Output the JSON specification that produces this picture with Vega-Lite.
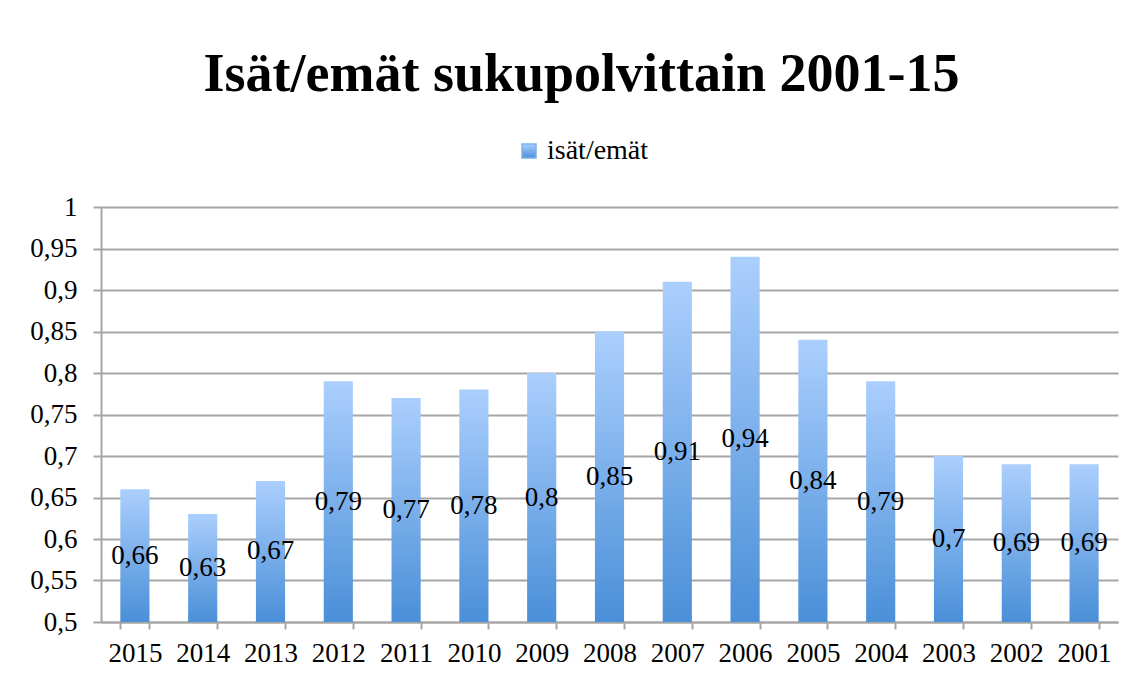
{
  "$schema": "https://vega.github.io/schema/vega-lite/v6.json",
  "width": 1017,
  "height": 415,
  "autosize": "none",
  "padding": {"left": 101, "top": 207, "right": 25, "bottom": 60},
  "background": "white",
  "config": {
    "locale": {"number": {"decimal": ",", "thousands": " ", "grouping": [3], "currency": ["", " €"]}},
    "font": "Liberation Serif",
    "view": {"stroke": null},
    "axis": {
      "labelFont": "Liberation Serif",
      "labelFontSize": 27,
      "labelColor": "black",
      "domainColor": "#a6a6a6",
      "domainWidth": 2,
      "tickColor": "#a6a6a6",
      "tickWidth": 2,
      "gridColor": "#a6a6a6",
      "gridWidth": 2,
      "title": null
    }
  },
  "title": {
    "text": "Isät/emät sukupolvittain 2001-15",
    "font": "Liberation Serif",
    "fontSize": 54,
    "fontWeight": "bold",
    "color": "black",
    "anchor": "middle",
    "dx": -28,
    "baseline": "alphabetic",
    "offset": -8
  },
  "data": {
    "values": [
      {"year": "2015", "v": 0.66, "s": "isät/emät"},
      {"year": "2014", "v": 0.63, "s": "isät/emät"},
      {"year": "2013", "v": 0.67, "s": "isät/emät"},
      {"year": "2012", "v": 0.79, "s": "isät/emät"},
      {"year": "2011", "v": 0.77, "s": "isät/emät"},
      {"year": "2010", "v": 0.78, "s": "isät/emät"},
      {"year": "2009", "v": 0.80, "s": "isät/emät"},
      {"year": "2008", "v": 0.85, "s": "isät/emät"},
      {"year": "2007", "v": 0.91, "s": "isät/emät"},
      {"year": "2006", "v": 0.94, "s": "isät/emät"},
      {"year": "2005", "v": 0.84, "s": "isät/emät"},
      {"year": "2004", "v": 0.79, "s": "isät/emät"},
      {"year": "2003", "v": 0.70, "s": "isät/emät"},
      {"year": "2002", "v": 0.69, "s": "isät/emät"},
      {"year": "2001", "v": 0.69, "s": "isät/emät"}
    ]
  },
  "layer": [
    {
      "mark": {
        "type": "bar",
        "clip": true,
        "fill": {"gradient": "linear", "x1": 0, "y1": 0, "x2": 0, "y2": 1,
          "stops": [{"offset": 0, "color": "#abcffd"}, {"offset": 1, "color": "#4a8fd8"}]},
        "strokeWidth": 0
      },
      "encoding": {
        "x": {
          "field": "year", "type": "nominal", "sort": null,
          "scale": {"paddingInner": 0.57, "paddingOuter": 0.285},
          "axis": {"labelAngle": 0, "tickSize": 7, "tickBand": "extent", "labelPadding": 11, "grid": false}
        },
        "y": {
          "field": "v", "type": "quantitative",
          "scale": {"domain": [0.5, 1], "zero": false},
          "axis": {"values": [0.5, 0.55, 0.6, 0.65, 0.7, 0.75, 0.8, 0.85, 0.9, 0.95, 1], "format": ".2~f", "tickSize": 8, "labelPadding": 16, "grid": true}
        },
        "y2": {"datum": 0.5},
        "stroke": {
          "field": "s", "type": "nominal",
          "scale": {"range": ["#7fb0ec"]},
          "legend": {
            "title": null,
            "orient": "none",
            "legendX": 414,
            "legendY": -70,
            "padding": 0,
            "symbolType": "square",
            "symbolSize": 196,
            "labelFontSize": 28,
            "labelFont": "Liberation Serif",
            "labelColor": "black",
            "labelOffset": 4,
            "encode": {
              "symbols": {
                "update": {
                  "fill": {"value": {"gradient": "linear", "x1": 0, "y1": 0, "x2": 0, "y2": 1,
                    "stops": [{"offset": 0, "color": "#abcffd"}, {"offset": 1, "color": "#4a8fd8"}]}},
                  "strokeWidth": {"value": 0},
                  "opacity": {"value": 1}
                }
              }
            }
          }
        }
      }
    },
    {
      "transform": [{"calculate": "(datum.v + 0.5) / 2", "as": "mid"}],
      "mark": {"type": "text", "fontSize": 27, "font": "Liberation Serif", "color": "black", "baseline": "middle"},
      "encoding": {
        "x": {"field": "year", "type": "nominal", "sort": null},
        "y": {"field": "mid", "type": "quantitative"},
        "text": {"field": "v", "type": "quantitative", "format": ".2~f"}
      }
    }
  ]
}
